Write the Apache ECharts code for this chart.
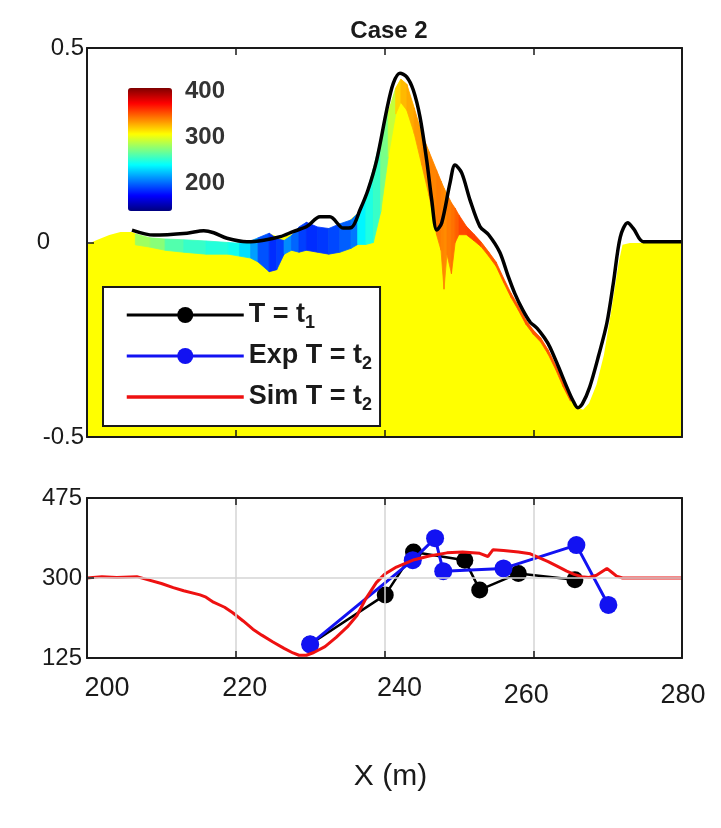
<!DOCTYPE html>
<html><head><meta charset="utf-8">
<script src="https://cdn.jsdelivr.net/npm/echarts@6/dist/echarts.min.js"></script>
<style>html,body{margin:0;padding:0;background:#fff}#c{width:721px;height:828px}</style>
</head><body><div id="c"></div>
<script>
// ---------- data ----------
const xTicks = [200, 220, 240, 260, 280];
const topYTicks = [-0.5, 0, 0.5];
const bottomYTicks = [125, 300, 475];
const tempTicks = [200, 300, 400];

// bed surface at t2 (yellow fill)
const surfaceX = [200, 201, 203, 204.5, 206, 208, 210, 214, 218, 221, 223, 224.5, 226, 228, 229.5, 231, 233, 235, 236.5, 237.5, 238.5, 239.5, 240.5, 241.5, 242.2, 243, 244, 245, 246, 247, 248, 249, 250, 251, 252, 253, 254, 255, 256, 257, 258, 259, 260, 261, 262, 263, 264, 265, 266, 266.7, 267.5, 268.5, 269.5, 270.5, 271.5, 272, 273, 280];
const surfaceY = [-0.006, 0.004, 0.019, 0.027, 0.027, 0.012, 0.009, 0.006, 0.001, -0.004, 0.006, 0.024, 0.012, 0.024, 0.053, 0.037, 0.037, 0.053, 0.078, 0.122, 0.19, 0.27, 0.335, 0.397, 0.42, 0.407, 0.346, 0.281, 0.233, 0.186, 0.14, 0.102, 0.071, 0.042, 0.022, 0.001, -0.024, -0.05, -0.091, -0.13, -0.163, -0.199, -0.225, -0.245, -0.276, -0.315, -0.359, -0.397, -0.425, -0.43, -0.413, -0.366, -0.289, -0.174, -0.05, -0.006, -0.001, -0.001];

// temperature-coloured layer
const bandX = [206.5, 208.5, 210.5, 213, 216, 219, 220.5, 222, 223, 224.5, 225.5, 226.5, 227.5, 228.5, 229.5, 231, 232.5, 234, 235.5, 236.4, 237.5, 238.5, 239.5, 240.5, 241.5, 242.2, 243, 244, 245, 246, 247, 247.6, 248.0, 248.4, 249, 249.5, 250, 251, 252, 253, 254, 255, 256, 257, 258, 259, 260, 261, 262, 263, 264, 265];
const bandTop = [0.022, 0.012, 0.009, 0.007, 0.004, 0.000, -0.002, 0.004, 0.012, 0.024, 0.010, 0.005, 0.018, 0.040, 0.052, 0.040, 0.036, 0.048, 0.058, 0.075, 0.122, 0.19, 0.27, 0.335, 0.397, 0.42, 0.407, 0.346, 0.281, 0.233, 0.186, 0.158, 0.14, 0.125, 0.102, 0.088, 0.071, 0.042, 0.022, 0.001, -0.024, -0.05, -0.091, -0.13, -0.163, -0.199, -0.225, -0.245, -0.276, -0.315, -0.359, -0.397];
const bandBottom = [-0.006, -0.012, -0.020, -0.025, -0.030, -0.030, -0.035, -0.040, -0.050, -0.075, -0.070, -0.030, -0.020, -0.025, -0.020, -0.025, -0.030, -0.025, -0.015, -0.005, -0.005, 0.000, 0.08, 0.22, 0.33, 0.36, 0.34, 0.28, 0.20, 0.12, 0.02, -0.02, -0.12, -0.03, -0.08, 0.00, 0.02, 0.02, 0.005, -0.011, -0.035, -0.061, -0.102, -0.141, -0.174, -0.210, -0.236, -0.256, -0.287, -0.326, -0.370, -0.408];
const bandTemp = [282, 276, 262, 255, 250, 245, 232, 215, 195, 185, 190, 210, 200, 190, 185, 188, 192, 198, 205, 238, 248, 255, 272, 292, 318, 326, 330, 334, 337, 340, 342, 340, 338, 342, 345, 350, 356, 358, 358, 352, 352, 352, 352, 352, 352, 352, 352, 352, 352, 352, 352, 352];

// bed profile at t1 (black line, top panel)
const profileX = [206.05, 208.97, 213.45, 215.69, 217.04, 218.82, 221.51, 223.76, 225.99, 227.70, 229.54, 231.33, 232.67, 234.46, 235.59, 236.71, 237.78, 238.95, 240.30, 241.18, 242.08, 242.98, 243.87, 244.77, 245.67, 246.35, 247.02, 247.69, 248.81, 249.48, 250.38, 251.50, 252.84, 254.0, 255.5, 256.6, 257.5, 258.6, 259.6, 260.5, 261.5, 262.25, 263.4, 264.5, 265.3, 266.0, 266.6, 267.6, 268.8, 269.9, 270.8, 271.7, 272.7, 273.5, 274.8, 280];
const profileY = [0.032, 0.019, 0.024, 0.030, 0.025, 0.011, 0.002, 0.006, 0.015, 0.028, 0.041, 0.066, 0.066, 0.037, 0.039, 0.084, 0.135, 0.212, 0.341, 0.409, 0.435, 0.426, 0.392, 0.323, 0.212, 0.109, 0.032, 0.050, 0.153, 0.199, 0.179, 0.109, 0.041, 0.02, -0.025, -0.085, -0.13, -0.174, -0.205, -0.220, -0.245, -0.269, -0.32, -0.371, -0.405, -0.425, -0.415, -0.371, -0.29, -0.207, -0.10, 0.014, 0.051, 0.035, 0.002, 0.002];

// bottom panel
const t1X = [230, 240.1, 243.9, 250.8, 252.8, 258.0, 265.6];
const t1V = [155, 263, 357, 339, 274, 310, 296];
const expX = [230, 243.8, 246.8, 247.9, 256.0, 265.8, 270.1];
const expV = [155, 339, 387, 315, 321, 372, 241];
const simX = [200, 202, 204, 206.7, 208, 210, 211.6, 213, 215.2, 216, 217, 218.5, 219.6, 221, 222.3, 223.5, 225, 226.5, 227.7, 228.5, 229.5, 230.5, 232, 233.5, 235, 236.3, 237.5, 238.9, 240, 241.6, 244, 246, 248.4, 250.5, 252.8, 253.9, 254.6, 256, 258, 259.6, 261, 262, 263.2, 264.5, 265.5, 266.5, 267.5, 268.5, 269.9, 270.6, 271.2, 272, 280];
const simV = [300, 303, 301, 303, 297, 288, 279, 272, 263, 258, 247, 236, 224, 206, 188, 175, 160, 146, 136, 131, 131, 137, 150, 170, 193, 218, 255, 290, 308, 324, 340, 348, 355, 357, 354, 347, 362, 360, 357, 353, 343, 336, 326, 315, 308, 303, 301, 306, 321, 312, 304, 300, 300];

// ---------- style ----------
const FONT = '"Liberation Sans", Arial, Helvetica, sans-serif';
const INK = '#1a1a1a';
const jet = ['#00007f', '#0000ff', '#0080ff', '#00ffff', '#80ff80', '#ffff00', '#ff8000', '#ff0000', '#7f0000'];
const xLabelShift = {200: [20, 0], 220: [9, 0], 240: [15, 0], 260: [-7, 7], 280: [1, 7]};
const topYLabelShift = {'-0.5': 0, '0': 34, '0.5': 0};

function xRich() {
  const r = {};
  xTicks.forEach(v => {
    const s = xLabelShift[v] || [0, 0];
    r['l' + v] = {fontSize: 27, fontFamily: FONT, color: INK,
      padding: [s[1], s[0] < 0 ? -2 * s[0] : 0, 0, s[0] > 0 ? 2 * s[0] : 0]};
  });
  return r;
}
function yTopRich() {
  const r = {};
  topYTicks.forEach((v, i) => {
    r['y' + i] = {fontSize: 24, fontFamily: FONT, color: INK, padding: [0, topYLabelShift[String(v)] || 0, 0, 0]};
  });
  return r;
}
const legendText = {'T = t1': 'T = t{s|1}', 'Exp T = t2': 'Exp T = t{s|2}', 'Sim T = t2': 'Sim T = t{s|2}'};

const frameLine = {show: true, onZero: false, lineStyle: {color: INK, width: 2}};
const inTick = {show: true, inside: true, length: 7, lineStyle: {color: INK, width: 1.5}};

const option = {
  animation: false,
  backgroundColor: '#fff',
  textStyle: {fontFamily: FONT},
  title: {text: 'Case 2', left: 384, top: 14, textAlign: 'center',
    textStyle: {fontSize: 24, fontWeight: 'bold', color: INK, fontFamily: FONT}},
  legend: {
    data: [
      {name: 'T = t1', lineStyle: {width: 3}},
      {name: 'Exp T = t2', lineStyle: {width: 3}},
      {name: 'Sim T = t2', lineStyle: {width: 3.5}, itemStyle: {color: 'rgba(0,0,0,0)', borderWidth: 0}}
    ],
    orient: 'vertical', left: 103, top: 287, z: 30,
    padding: [11, 8, 12, 22], itemGap: 7, itemWidth: 117, itemHeight: 20,
    backgroundColor: '#fff', borderColor: INK, borderWidth: 2, borderRadius: 0,
    formatter: n => legendText[n] || n,
    textStyle: {fontSize: 27, fontWeight: 'bold', color: INK, fontFamily: FONT, lineHeight: 34,
      rich: {s: {fontSize: 18, fontWeight: 'bold', color: INK, fontFamily: FONT, verticalAlign: 'bottom', lineHeight: 18}}},
    selectedMode: false
  },
  visualMap: {
    type: 'continuous', min: 140, max: 408, dimension: 3, seriesIndex: 1,
    show: true, calculable: false, hoverLink: false, left: 128, top: 88,
    itemWidth: 44, itemHeight: 123, padding: 0, text: null, z: 30,
    inRange: {color: jet}
  },
  grid: [
    {left: 87, top: 48, width: 595, height: 389},
    {left: 87, top: 498, width: 595, height: 160},
    {left: 128, top: 88, width: 44, height: 123}
  ],
  xAxis: [
    {gridIndex: 0, type: 'value', min: 200, max: 280, interval: 20, position: 'bottom', z: 10,
      axisLine: frameLine, axisTick: inTick, axisLabel: {show: false}, splitLine: {show: false}},
    {gridIndex: 0, type: 'value', min: 200, max: 280, interval: 20, position: 'top', z: 10,
      axisLine: frameLine, axisTick: inTick, axisLabel: {show: false}, splitLine: {show: false}},
    {gridIndex: 1, type: 'value', min: 200, max: 280, interval: 20, position: 'bottom', z: 10,
      axisLine: frameLine, axisTick: inTick,
      axisLabel: {show: true, margin: 17, formatter: v => '{l' + v + '|' + v + '}', rich: xRich()},
      splitLine: {show: true, lineStyle: {color: '#d4d4d4', width: 1.5}},
      name: 'X (m)', nameLocation: 'middle', nameGap: 104,
      nameTextStyle: {fontSize: 30, color: INK, fontFamily: FONT, padding: [0, 0, 0, 12]}},
    {gridIndex: 1, type: 'value', min: 200, max: 280, interval: 20, position: 'top', z: 10,
      axisLine: frameLine, axisTick: inTick, axisLabel: {show: false}, splitLine: {show: false}},
    {gridIndex: 2, type: 'value', min: 0, max: 1, show: false}
  ],
  yAxis: [
    {gridIndex: 0, type: 'value', min: -0.5, max: 0.5, interval: 0.5, position: 'left', z: 10,
      axisLine: frameLine, axisTick: inTick,
      axisLabel: {margin: 3, formatter: v => '{y' + topYTicks.indexOf(v) + '|' + v + '}', rich: yTopRich()},
      splitLine: {show: false}},
    {gridIndex: 0, type: 'value', min: -0.5, max: 0.5, position: 'right', z: 10,
      axisLine: frameLine, axisTick: {show: false}, axisLabel: {show: false}, splitLine: {show: false}},
    {gridIndex: 1, type: 'value', min: 125, max: 475, position: 'left', z: 10,
      axisLine: frameLine,
      axisTick: Object.assign({}, inTick, {customValues: bottomYTicks}),
      axisLabel: {customValues: bottomYTicks, margin: 5, fontSize: 24, color: INK, fontFamily: FONT},
      splitLine: {show: true, lineStyle: {color: '#d4d4d4', width: 1.5}}},
    {gridIndex: 1, type: 'value', min: 125, max: 475, position: 'right', z: 10,
      axisLine: frameLine, axisTick: {show: false}, axisLabel: {show: false}, splitLine: {show: false}},
    {gridIndex: 2, type: 'value', min: 140, max: 408, position: 'right', z: 30,
      axisLine: {show: false}, axisTick: {show: false}, splitLine: {show: false},
      axisLabel: {customValues: tempTicks, margin: 13, fontSize: 24, fontWeight: 'bold', color: '#333', fontFamily: FONT}}
  ],
  series: [
    {name: 'bed t2', type: 'line', xAxisIndex: 0, yAxisIndex: 0, z: 1,
      data: surfaceX.map((x, i) => [x, surfaceY[i]]),
      symbol: 'none', lineStyle: {width: 0}, areaStyle: {color: '#ffff00', opacity: 1, origin: 'start'}},
    {name: 'temperature', type: 'custom', xAxisIndex: 0, yAxisIndex: 0, z: 2, clip: true,
      data: bandX.map((x, i) => [x, bandTop[i], bandBottom[i], bandTemp[i]]),
      encode: {x: 0, y: [1, 2]},
      renderItem: function (params, api) {
        const i = params.dataIndex;
        if (i >= bandX.length - 1) return null;
        const a = api.coord([api.value(0), api.value(1)]);
        const b = api.coord([bandX[i + 1], bandTop[i + 1]]);
        const c = api.coord([bandX[i + 1], bandBottom[i + 1]]);
        const d = api.coord([api.value(0), api.value(2)]);
        const col = api.visual('color');
        return {type: 'polygon', shape: {points: [a, b, c, d]}, style: {fill: col, stroke: col, lineWidth: 0.8}};
      }},
    {name: 'profile t1', type: 'line', xAxisIndex: 0, yAxisIndex: 0, z: 5,
      data: profileX.map((x, i) => [x, profileY[i]]), smooth: 0.3,
      symbol: 'none', lineStyle: {color: '#000', width: 3.5}},
    {name: 'T = t1', type: 'line', xAxisIndex: 2, yAxisIndex: 2, z: 3,
      data: t1X.map((x, i) => [x, t1V[i]]),
      symbol: 'circle', symbolSize: 17, itemStyle: {color: '#000'}, lineStyle: {color: '#000', width: 2.5}},
    {name: 'Exp T = t2', type: 'line', xAxisIndex: 2, yAxisIndex: 2, z: 4,
      data: expX.map((x, i) => [x, expV[i]]),
      symbol: 'circle', symbolSize: 18, itemStyle: {color: '#1212f2'}, lineStyle: {color: '#1212f2', width: 3}},
    {name: 'Sim T = t2', type: 'line', xAxisIndex: 2, yAxisIndex: 2, z: 6,
      data: simX.map((x, i) => [x, simV[i]]),
      symbol: 'none', itemStyle: {color: '#ee1111'}, lineStyle: {color: '#ee1111', width: 3}}
  ]
};
const chart = echarts.init(document.getElementById('c'), null, {renderer: 'canvas'});
chart.setOption(option);
</script></body></html>
